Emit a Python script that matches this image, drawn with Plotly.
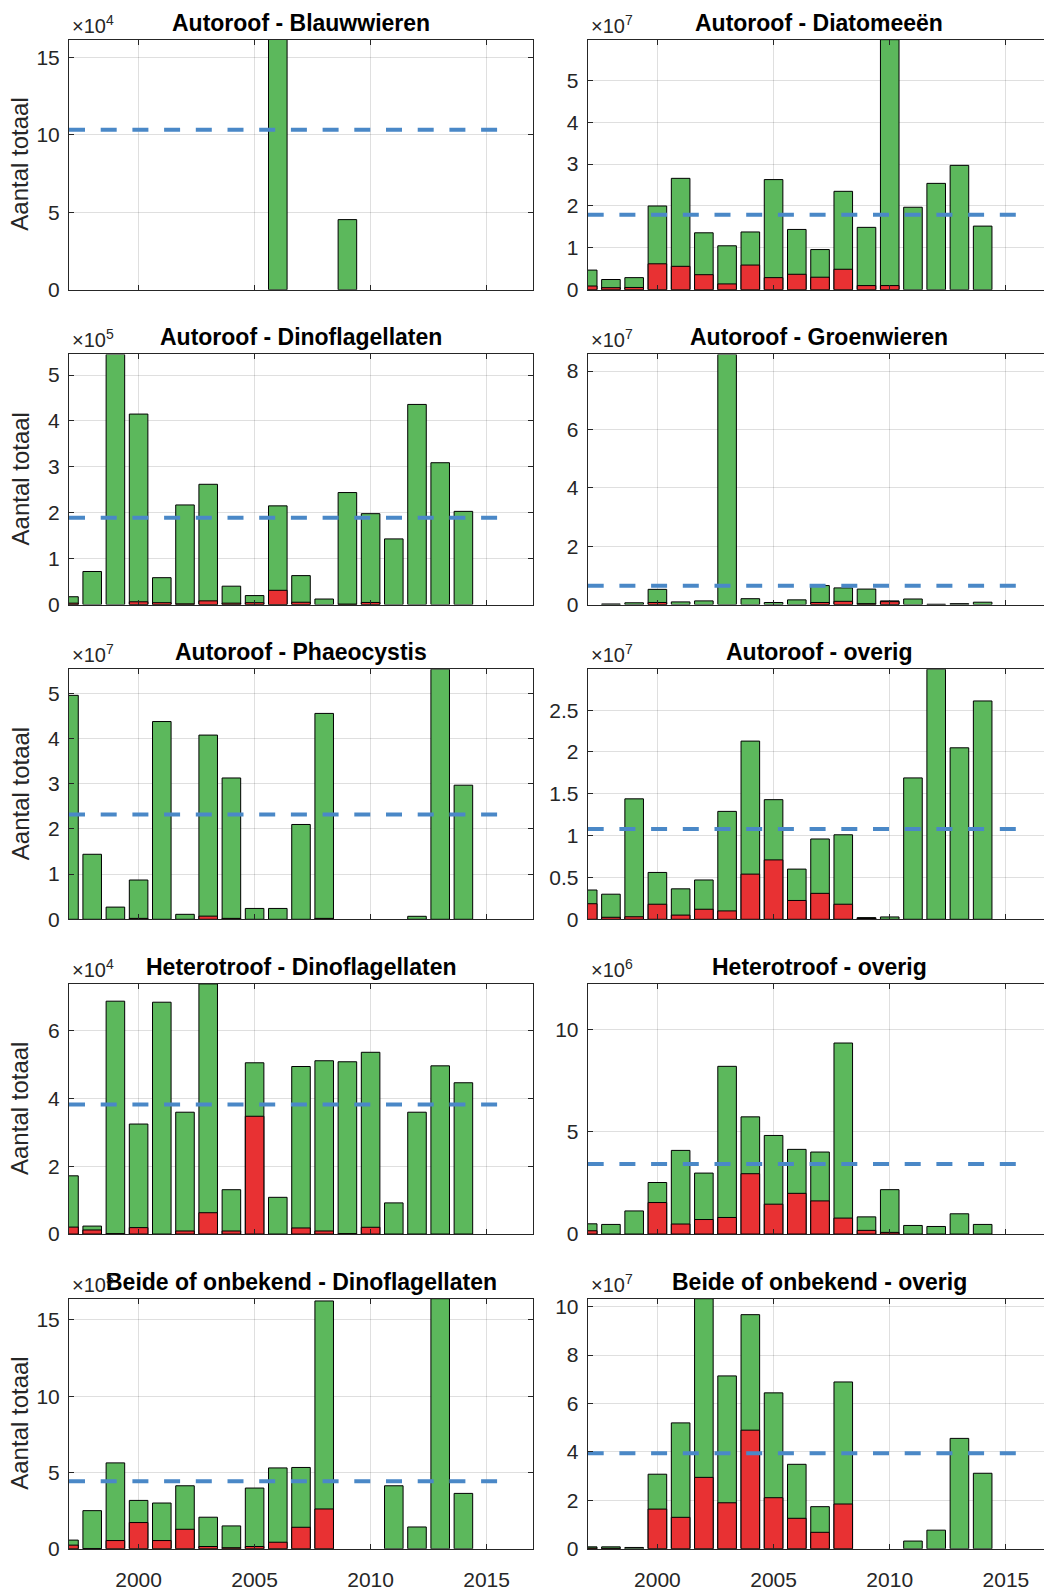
import plotly.graph_objects as go

# jaren op de x-as
years = list(range(1997, 2015))

# waarden per paneel (in eenheden van de exponent boven de as)
blauw_tot = [0, 0, 0, 0, 0, 0, 0, 0, 0, 16.2, 0, 0, 4.53, 0, 0, 0, 0, 0]
blauw_rood = [0, 0, 0, 0, 0, 0, 0, 0, 0, 0, 0, 0, 0, 0, 0, 0, 0, 0]

diatom_tot = [0.47, 0.245, 0.29, 2.0, 2.66, 1.36, 1.05, 1.38, 2.63, 1.44, 0.96, 2.35, 1.49, 5.97, 1.97, 2.54, 2.97, 1.52]
diatom_rood = [0.09, 0.05, 0.055, 0.62, 0.56, 0.36, 0.14, 0.59, 0.29, 0.37, 0.30, 0.49, 0.10, 0.10, 0, 0, 0, 0]

dino_tot = [0.17, 0.72, 5.45, 4.15, 0.585, 2.17, 2.62, 0.40, 0.195, 2.15, 0.63, 0.12, 2.44, 1.98, 1.43, 4.36, 3.09, 2.03]
dino_rood = [0.03, 0, 0, 0.06, 0.04, 0.015, 0.08, 0.03, 0.04, 0.31, 0.05, 0, 0.01, 0.045, 0, 0, 0, 0]

groen_tot = [0, 0.02, 0.06, 0.52, 0.09, 0.125, 8.57, 0.2, 0.07, 0.16, 0.65, 0.57, 0.53, 0.125, 0.19, 0.01, 0.03, 0.08]
groen_rood = [0, 0, 0, 0.07, 0, 0, 0, 0, 0, 0, 0.07, 0.11, 0.03, 0.10, 0, 0, 0, 0]

phaeo_tot = [4.96, 1.44, 0.27, 0.87, 4.38, 0.11, 4.08, 3.13, 0.24, 0.24, 2.1, 4.56, 0, 0, 0, 0.066, 5.54, 2.97]
phaeo_rood = [0, 0, 0, 0.02, 0, 0, 0.07, 0.02, 0, 0, 0, 0.02, 0, 0, 0, 0, 0, 0]

overig_tot = [0.35, 0.30, 1.44, 0.56, 0.364, 0.47, 1.29, 2.13, 1.43, 0.60, 0.96, 1.01, 0.02, 0.028, 1.69, 2.99, 2.05, 2.61]
overig_rood = [0.186, 0.024, 0.03, 0.18, 0.05, 0.12, 0.10, 0.54, 0.71, 0.225, 0.31, 0.18, 0.01, 0, 0, 0, 0, 0]

hdino_tot = [1.72, 0.235, 6.88, 3.25, 6.85, 3.6, 7.39, 1.31, 5.06, 1.085, 4.95, 5.12, 5.09, 5.37, 0.92, 3.6, 4.97, 4.47]
hdino_rood = [0.205, 0.12, 0.01, 0.19, 0, 0.09, 0.63, 0.09, 3.48, 0, 0.18, 0.09, 0.01, 0.2, 0, 0, 0, 0]

hover_tot = [0.5, 0.47, 1.13, 2.52, 4.09, 2.98, 8.2, 5.73, 4.82, 4.14, 4.01, 9.34, 0.84, 2.17, 0.42, 0.37, 0.99, 0.47]
hover_rood = [0.16, 0, 0, 1.54, 0.49, 0.71, 0.81, 2.95, 1.46, 1.99, 1.62, 0.78, 0.18, 0.08, 0, 0, 0, 0]

bdino_tot = [0.57, 2.5, 5.63, 3.17, 3.0, 4.13, 2.07, 1.5, 3.98, 5.3, 5.33, 16.24, 0, 0, 4.13, 1.43, 16.39, 3.63]
bdino_rood = [0.24, 0.02, 0.54, 1.72, 0.54, 1.28, 0.15, 0.07, 0.15, 0.43, 1.41, 2.61, 0, 0, 0, 0, 0, 0]

bover_tot = [0.08, 0.08, 0.055, 3.08, 5.2, 10.33, 7.14, 9.67, 6.44, 3.49, 1.74, 6.89, 0, 0, 0.32, 0.77, 4.56, 3.12]
bover_rood = [0.03, 0.02, 0, 1.64, 1.3, 2.95, 1.9, 4.9, 2.11, 1.26, 0.68, 1.85, 0, 0, 0, 0, 0, 0]

titels = [
    "Autoroof - Blauwwieren", "Autoroof - Diatomeeën",
    "Autoroof - Dinoflagellaten", "Autoroof - Groenwieren",
    "Autoroof - Phaeocystis", "Autoroof - overig",
    "Heterotroof - Dinoflagellaten", "Heterotroof - overig",
    "Beide of onbekend - Dinoflagellaten", "Beide of onbekend - overig",
]
totaal = [blauw_tot, diatom_tot, dino_tot, groen_tot, phaeo_tot,
          overig_tot, hdino_tot, hover_tot, bdino_tot, bover_tot]
rood = [blauw_rood, diatom_rood, dino_rood, groen_rood, phaeo_rood,
        overig_rood, hdino_rood, hover_rood, bdino_rood, bover_rood]
gemiddeld = [10.34, 1.79, 1.89, 0.64, 2.32, 1.08, 3.83, 3.43, 4.43, 3.95]
exponent = [4, 7, 5, 7, 7, 7, 4, 6, 5, 7]
ymax = [16.15, 5.97, 5.45, 8.57, 5.54, 2.99, 7.39, 12.23, 16.39, 10.33]
ystap = [5, 1, 1, 2, 1, 0.5, 2, 5, 5, 2]

GROEN = "#5cb85c"
ROOD = "#e83133"
BLAUW = "#4a88c7"
AS = "#262626"
GRID = "rgba(38,38,38,0.15)"
FONT = "Liberation Sans, Arial, sans-serif"

W, H = 1044, 1591

fig = go.Figure()
annotations = []

for k in range(10):
    r, c = divmod(k, 2)
    n = "" if k == 0 else str(k + 1)

    # geen rand om lege staven
    rand_tot = [1 if v > 0 else 0 for v in totaal[k]]
    rand_rood = [1 if v > 0 else 0 for v in rood[k]]

    # totaal (groen) met het rode deel eroverheen
    fig.add_trace(go.Bar(x=years, y=totaal[k], width=0.8,
                         marker=dict(color=GROEN, line=dict(color="black", width=rand_tot)),
                         xaxis="x" + n, yaxis="y" + n))
    fig.add_trace(go.Bar(x=years, y=rood[k], width=0.8,
                         marker=dict(color=ROOD, line=dict(color="black", width=rand_rood)),
                         xaxis="x" + n, yaxis="y" + n))
    # gemiddelde als gestippelde lijn
    fig.add_trace(go.Scatter(x=[1997, 2016], y=[gemiddeld[k], gemiddeld[k]], mode="lines",
                             line=dict(color=BLAUW, width=4, dash="16px,15.7px"),
                             xaxis="x" + n, yaxis="y" + n))

    # positie in pixels
    if c == 0:
        x0, x1, xr = 69, 533, [1997, 2017]
        xmid = 301
    else:
        x0, x1, xr = 587.7, 1044, [1997, 2016.64]
        xmid = 819
    top = 36 + 317.75 * r
    bot = top + 252.5

    fig.layout["xaxis" + n] = dict(
        domain=[x0 / W, x1 / W], range=xr, anchor="y" + n,
        tick0=2000, dtick=5, ticks="inside", ticklen=5, tickcolor=AS,
        showgrid=True, gridcolor=GRID, showline=True, linecolor=AS, linewidth=1,
        mirror="ticks", zeroline=False, showticklabels=(r == 4),
        tickfont=dict(family=FONT, size=21, color=AS), ticklabelstandoff=12,
    )
    fig.layout["yaxis" + n] = dict(
        domain=[1 - bot / H, 1 - top / H], range=[0, ymax[k]], anchor="x" + n,
        tick0=0, dtick=ystap[k], ticks="inside", ticklen=5, tickcolor=AS,
        showgrid=True, gridcolor=GRID, showline=True, linecolor=AS, linewidth=1,
        mirror="ticks" if c == 0 else False, zeroline=False,
        tickfont=dict(family=FONT, size=21, color=AS), ticklabelstandoff=4,
    )

    annotations.append(dict(
        text="<b>" + titels[k] + "</b>", x=xmid / W, y=1 - (top - 2) / H,
        xref="paper", yref="paper", xanchor="center", yanchor="bottom", showarrow=False,
        font=dict(family=FONT, size=23, color="black"),
    ))
    annotations.append(dict(
        text="×10<sup>%d</sup>" % exponent[k], x=(x0 + 1) / W, y=1 - (top - 1) / H,
        xref="paper", yref="paper", xanchor="left", yanchor="bottom", showarrow=False,
        font=dict(family=FONT, size=20, color=AS),
    ))
    if c == 0:
        annotations.append(dict(
            text="Aantal totaal", x=20 / W, y=1 - (top + bot) / 2 / H,
            xref="paper", yref="paper", xanchor="center", yanchor="middle",
            textangle=-90, showarrow=False,
            font=dict(family=FONT, size=24, color=AS),
        ))

fig.update_layout(
    width=W, height=H, autosize=False,
    margin=dict(l=0, r=0, t=0, b=0),
    barmode="overlay", showlegend=False,
    plot_bgcolor="white", paper_bgcolor="white",
    annotations=annotations,
)

fig.write_html("out.html", config={"displayModeBar": False},
               post_script="document.body.style.margin='0px';")
